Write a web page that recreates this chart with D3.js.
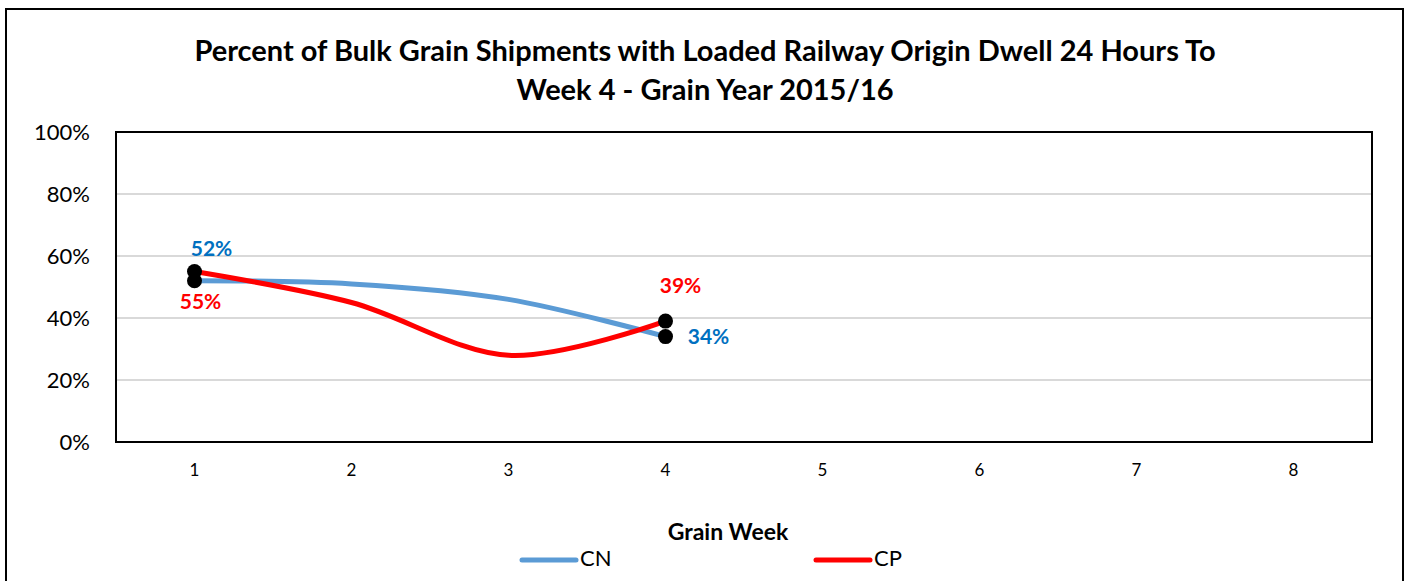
<!DOCTYPE html>
<html>
<head>
<meta charset="utf-8">
<script src="https://cdn.jsdelivr.net/npm/d3@7"></script>
<style>
  body { margin: 0; background: #fff; }
  svg { display: block; font-family: Lato, "Open Sans", sans-serif; }
</style>
</head>
<body>
<svg id="chart" width="1405" height="581"></svg>
<script>
// chart data
const weeks = [1, 2, 3, 4, 5, 6, 7, 8];
const cnValues = [0.52, 0.51, 0.46, 0.34];
const cpValues = [0.55, 0.45, 0.28, 0.39];
const yTicks = [0, 0.2, 0.4, 0.6, 0.8, 1.0];
const seriesNames = ["CN", "CP"];
const titleLines = [
  "Percent of Bulk Grain Shipments with Loaded Railway Origin Dwell 24 Hours To",
  "Week 4 - Grain Year 2015/16"
];

const colors = { CN: "#5b9bd5", CP: "#ff0000" };
const labelColors = { CN: "#0070c0", CP: "#ff0000" };

const margin = { top: 132, right: 33, bottom: 139, left: 116 };
const width = 1405 - margin.left - margin.right;
const height = 581 - margin.top - margin.bottom;

const svg = d3.select("#chart");

// outer chart frame (bottom edge falls off the picture)
svg.append("rect")
  .attr("x", 6).attr("y", 9)
  .attr("width", 1397).attr("height", 600)
  .attr("fill", "none")
  .attr("stroke", "#000")
  .attr("stroke-width", 2);

// title
svg.append("g")
  .selectAll("text")
  .data(titleLines)
  .join("text")
  .attr("x", 705)
  .attr("y", (d, i) => 61 + i * 39)
  .attr("text-anchor", "middle")
  .attr("font-size", 29)
  .attr("font-weight", "bold")
  .attr("fill", "#000")
  .text(d => d);

const chart = svg.append("g")
  .attr("transform", `translate(${margin.left},${margin.top})`);

const x = d3.scaleBand().domain(weeks).range([0, width]);
const y = d3.scaleLinear().domain([0, 1]).range([height, 0]);
const xPos = d => x(d) + x.bandwidth() / 2;

// gridlines
chart.append("g")
  .selectAll("line")
  .data(yTicks.filter(d => d > 0 && d < 1))
  .join("line")
  .attr("x1", 0).attr("x2", width)
  .attr("y1", d => y(d)).attr("y2", d => y(d))
  .attr("stroke", "#d9d9d9")
  .attr("stroke-width", 2);

// y axis labels
const yAxis = chart.append("g")
  .call(d3.axisLeft(y).tickValues(yTicks).tickFormat(d3.format(".0%")).tickSize(0).tickPadding(26));
yAxis.select(".domain").remove();
yAxis.selectAll("text")
  .attr("font-size", 22)
  .attr("font-family", "Lato, sans-serif")
  .attr("fill", "#000");

// x axis labels
const xAxis = chart.append("g")
  .attr("transform", `translate(0,${height})`)
  .call(d3.axisBottom(x).tickSize(0).tickPadding(22));
xAxis.select(".domain").remove();
xAxis.selectAll("text")
  .attr("font-size", 17)
  .attr("font-family", "Lato, sans-serif")
  .attr("fill", "#000");

// plot border
chart.append("rect")
  .attr("width", width).attr("height", height)
  .attr("fill", "none")
  .attr("stroke", "#000")
  .attr("stroke-width", 2);

// axis title
svg.append("text")
  .attr("x", 728).attr("y", 540)
  .attr("text-anchor", "middle")
  .attr("font-size", 23)
  .attr("font-weight", "bold")
  .text("Grain Week");

const series = [
  { name: "CN", values: cnValues },
  { name: "CP", values: cpValues }
];

const line = d3.line()
  .x((d, i) => xPos(weeks[i]))
  .y(d => y(d))
  .curve(d3.curveCardinal.tension(0));

chart.selectAll(".series")
  .data(series)
  .join("path")
  .attr("class", "series")
  .attr("d", d => line(d.values))
  .attr("fill", "none")
  .attr("stroke", d => colors[d.name])
  .attr("stroke-width", 5)
  .attr("stroke-linecap", "round");

// markers on first and last point only
series.forEach(s => {
  const last = s.values.length - 1;
  chart.append("g")
    .selectAll("circle")
    .data([0, last])
    .join("circle")
    .attr("cx", i => xPos(weeks[i]))
    .attr("cy", i => y(s.values[i]))
    .attr("r", 7.5)
    .attr("fill", "#000");
});

// data labels on first and last points
const labels = [
  { name: "CN", i: 0, dx: 17, dy: -30 },
  { name: "CN", i: 3, dx: 43, dy: 2 },
  { name: "CP", i: 0, dx: 6, dy: 32 },
  { name: "CP", i: 3, dx: 15, dy: -33 }
];
chart.append("g")
  .selectAll("text")
  .data(labels)
  .join("text")
  .attr("x", d => xPos(weeks[d.i]) + d.dx)
  .attr("y", d => y(series.find(s => s.name === d.name).values[d.i]) + d.dy)
  .attr("text-anchor", "middle")
  .attr("dominant-baseline", "middle")
  .attr("font-size", 21)
  .attr("font-weight", "bold")
  .attr("fill", d => labelColors[d.name])
  .text(d => d3.format(".0%")(series.find(s => s.name === d.name).values[d.i]));

// legend
const legendX = [522, 816];
const legend = svg.append("g")
  .selectAll("g")
  .data(seriesNames)
  .join("g")
  .attr("transform", (d, i) => `translate(${legendX[i]},560)`);
legend.append("line")
  .attr("x1", 0).attr("x2", 54)
  .attr("stroke", d => colors[d])
  .attr("stroke-width", 5)
  .attr("stroke-linecap", "round");
legend.append("text")
  .attr("x", 58)
  .attr("dominant-baseline", "middle")
  .attr("font-size", 22)
  .text(d => d);
</script>
</body>
</html>
